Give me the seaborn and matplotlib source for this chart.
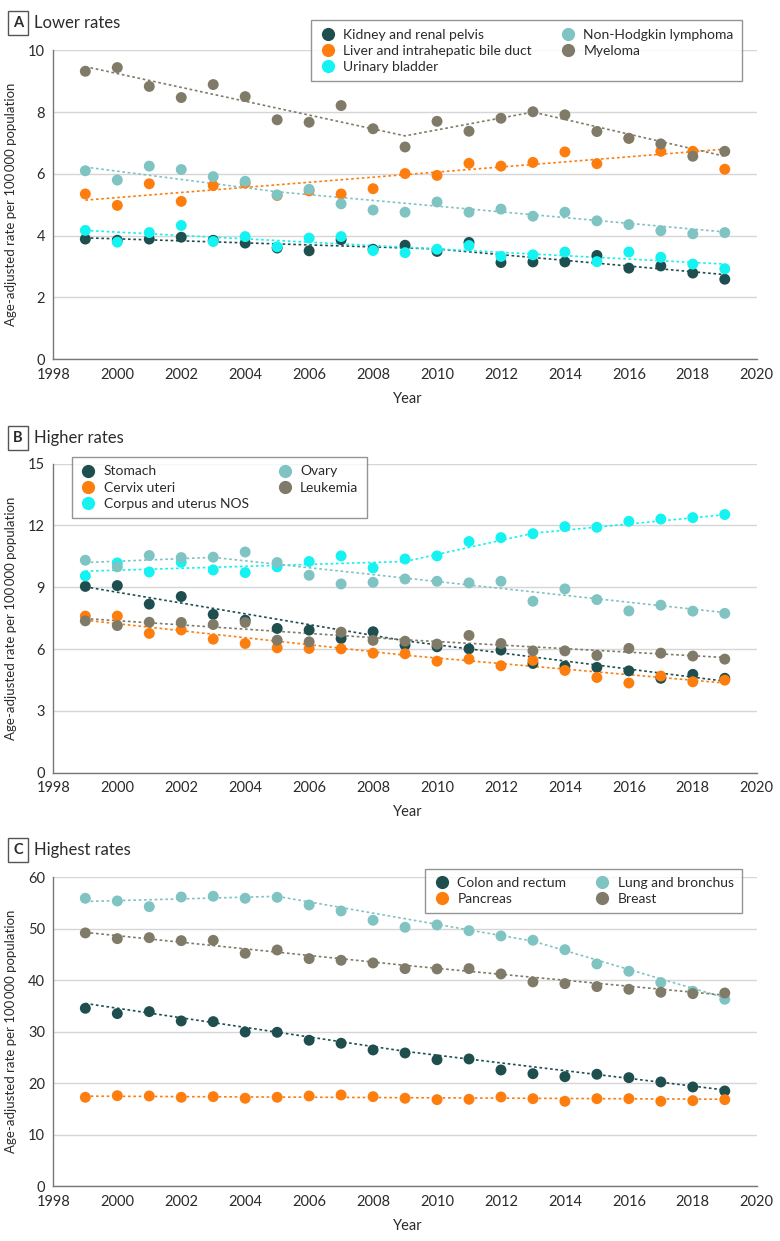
import numpy as np
import pandas as pd
import seaborn as sns
import matplotlib.pyplot as plt
from matplotlib.lines import Line2D

years = list(range(1999, 2020))

# Panel A - lower rates
kidney = [3.89, 3.85, 3.89, 3.95, 3.85, 3.76, 3.60, 3.51, 3.87, 3.56, 3.69,
          3.49, 3.78, 3.13, 3.15, 3.15, 3.36, 2.95, 3.02, 2.79, 2.59]
liver = [5.35, 4.98, 5.68, 5.11, 5.62, 5.70, 5.30, 5.45, 5.35, 5.52, 6.01,
         5.95, 6.34, 6.25, 6.37, 6.71, 6.33, 7.15, 6.73, 6.73, 6.15]
bladder = [4.17, 3.79, 4.10, 4.33, 3.81, 3.97, 3.64, 3.92, 3.97, 3.52, 3.45,
           3.56, 3.68, 3.33, 3.38, 3.47, 3.16, 3.47, 3.30, 3.08, 2.93]
nhl = [6.10, 5.80, 6.25, 6.14, 5.91, 5.76, 5.32, 5.50, 5.03, 4.83, 4.76,
       5.09, 4.76, 4.86, 4.63, 4.76, 4.48, 4.36, 4.16, 4.06, 4.10]
myeloma = [9.32, 9.44, 8.83, 8.47, 8.89, 8.50, 7.75, 7.67, 8.21, 7.46, 6.87,
           7.70, 7.38, 7.80, 8.01, 7.91, 7.37, 7.15, 6.97, 6.57, 6.73]

# Panel B - higher rates
stomach = [9.04, 9.08, 8.18, 8.55, 7.68, 7.40, 7.00, 6.92, 6.51, 6.84, 6.19,
           6.11, 6.01, 5.95, 5.30, 5.17, 5.11, 4.94, 4.58, 4.77, 4.58]
cervix = [7.60, 7.60, 6.76, 6.93, 6.48, 6.27, 6.06, 6.03, 6.01, 5.80, 5.77,
          5.41, 5.51, 5.19, 5.45, 4.96, 4.62, 4.35, 4.69, 4.41, 4.49]
corpus = [9.55, 10.18, 9.74, 10.21, 9.84, 9.71, 9.99, 10.25, 10.52, 9.94, 10.37,
          10.52, 11.22, 11.41, 11.60, 11.94, 11.91, 12.20, 12.31, 12.38, 12.53]
ovary = [10.31, 9.99, 10.54, 10.44, 10.46, 10.71, 10.20, 9.58, 9.16, 9.24, 9.40,
         9.29, 9.21, 9.29, 8.32, 8.92, 8.40, 7.85, 8.13, 7.84, 7.73]
leukemia = [7.37, 7.14, 7.30, 7.29, 7.19, 7.29, 6.43, 6.35, 6.82, 6.42, 6.38,
            6.24, 6.66, 6.27, 5.91, 5.91, 5.69, 6.03, 5.80, 5.66, 5.51]

# Panel C - highest rates
colon = [34.56, 33.53, 33.91, 32.10, 31.97, 29.96, 29.90, 28.35, 27.77, 26.47, 25.88,
         24.58, 24.72, 22.58, 21.86, 21.28, 21.75, 21.09, 20.25, 19.28, 18.50]
pancreas = [17.28, 17.59, 17.53, 17.28, 17.40, 17.09, 17.28, 17.53, 17.73, 17.40, 17.09,
            16.82, 16.89, 17.34, 17.01, 16.50, 17.01, 17.01, 16.50, 16.63, 16.82]
lung = [55.92, 55.40, 54.29, 56.17, 56.31, 55.92, 56.11, 54.62, 53.46, 51.65, 50.29,
        50.74, 49.63, 48.60, 47.77, 45.94, 43.17, 41.75, 39.55, 37.86, 36.31]
breast = [49.19, 48.08, 48.27, 47.69, 47.75, 45.24, 45.88, 44.20, 43.88, 43.36, 42.26,
          42.20, 42.26, 41.23, 39.68, 39.35, 38.77, 38.25, 37.67, 37.40, 37.53]

# joinpoint trend lines: (knot years, fitted values)
trend_kidney = ([1999, 2010, 2019], [3.93, 3.57, 2.74])
trend_liver = ([1999, 2019], [5.15, 6.80])
trend_bladder = ([1999, 2019], [4.17, 3.08])
trend_nhl = ([1999, 2005, 2019], [6.22, 5.42, 4.12])
trend_myeloma = ([1999, 2009, 2013, 2019], [9.47, 7.23, 8.00, 6.57])

trend_stomach = ([1999, 2009, 2019], [9.02, 6.40, 4.44])
trend_cervix = ([1999, 2009, 2019], [7.40, 5.70, 4.35])
trend_corpus = ([1999, 2009, 2013, 2019], [9.78, 10.25, 11.62, 12.52])
trend_ovary = ([1999, 2003, 2019], [10.20, 10.45, 7.77])
trend_leukemia = ([1999, 2009, 2019], [7.48, 6.45, 5.59])

trend_colon = ([1999, 2009, 2019], [35.5, 26.2, 18.7])
trend_pancreas = ([1999, 2019], [17.5, 16.9])
trend_lung = ([1999, 2005, 2013, 2019], [55.3, 56.3, 47.6, 36.6])
trend_breast = ([1999, 2009, 2019], [49.3, 42.9, 37.1])

DARK = "#1f4e4f"
ORANGE = "#fd7e0f"
CYAN = "#14f2f2"
TEAL = "#80c3c3"
OLIVE = "#7f7b68"

panels = [
    dict(letter="A", title="Lower rates", ylim=(0, 10), yticks=np.arange(0, 11, 2),
         series=[("Kidney and renal pelvis", kidney, trend_kidney, DARK),
                 ("Liver and intrahepatic bile duct", liver, trend_liver, ORANGE),
                 ("Urinary bladder", bladder, trend_bladder, CYAN),
                 ("Non-Hodgkin lymphoma", nhl, trend_nhl, TEAL),
                 ("Myeloma", myeloma, trend_myeloma, OLIVE)],
         legend=dict(loc="upper right", bbox_to_anchor=(0.979, 1.097))),
    dict(letter="B", title="Higher rates", ylim=(0, 15), yticks=np.arange(0, 16, 3),
         series=[("Stomach", stomach, trend_stomach, DARK),
                 ("Cervix uteri", cervix, trend_cervix, ORANGE),
                 ("Corpus and uterus NOS", corpus, trend_corpus, CYAN),
                 ("Ovary", ovary, trend_ovary, TEAL),
                 ("Leukemia", leukemia, trend_leukemia, OLIVE)],
         legend=dict(loc="upper left", bbox_to_anchor=(0.026, 1.021))),
    dict(letter="C", title="Highest rates", ylim=(0, 60), yticks=np.arange(0, 61, 10),
         series=[("Colon and rectum", colon, trend_colon, DARK),
                 ("Pancreas", pancreas, trend_pancreas, ORANGE),
                 ("Lung and bronchus", lung, trend_lung, TEAL),
                 ("Breast", breast, trend_breast, OLIVE)],
         legend=dict(loc="upper right", bbox_to_anchor=(0.979, 1.028))),
]

sns.set_theme(style="white")
plt.rcParams["font.family"] = ["Lato", "DejaVu Sans"]
TXT = "#2b2b2b"

fig = plt.figure(figsize=(7.8, 12.41), dpi=100)
axes_pos = [0.7105, 0.3774, 0.0441]
label_y = [0.9815, 0.647, 0.315]

for p, bottom, ly in zip(panels, axes_pos, label_y):
    ax = fig.add_axes([0.0684, bottom, 0.9018, 0.249])
    frames = []
    palette = {}
    for name, vals, trend, color in p["series"]:
        frames.append(pd.DataFrame({"Year": years, "Rate": vals, "Site": name}))
        palette[name] = color
        ax.plot(trend[0], trend[1], color=color, lw=1.2, ls=(0, (1.6, 1.6)), zorder=2)
    df = pd.concat(frames, ignore_index=True)
    sns.scatterplot(data=df, x="Year", y="Rate", hue="Site", palette=palette,
                    s=62, linewidth=0, alpha=1, ax=ax, zorder=3)

    ax.set_xlim(1998, 2020)
    ax.set_ylim(*p["ylim"])
    ax.set_xticks(range(1998, 2021, 2))
    ax.set_yticks(p["yticks"])
    ax.grid(axis="y", color="#d6d6d6", lw=1)
    ax.set_axisbelow(True)
    for s in ["top", "right"]:
        ax.spines[s].set_visible(False)
    for s in ["left", "bottom"]:
        ax.spines[s].set_color("#777777")
        ax.spines[s].set_linewidth(1)
    ax.tick_params(axis="both", direction="out", length=4, width=1, color="#777777",
                   labelsize=10.5, labelcolor=TXT, pad=2)
    ax.set_xlabel("Year", fontsize=10.5, color=TXT, ha="left")
    ax.xaxis.set_label_coords(0.483, -0.105)
    ax.set_ylabel("Age-adjusted rate per 100\u2009000 population", fontsize=9.5, color=TXT)
    ax.yaxis.set_label_coords(-0.052, 0.5)

    handles = [Line2D([], [], marker="o", ls="", ms=9.5, mfc=c, mec="none")
               for _, _, _, c in p["series"]]
    names = [n for n, _, _, _ in p["series"]]
    leg = ax.legend(handles, names, ncol=2, frameon=True, fancybox=False,
                    fontsize=10, handletextpad=0.5, columnspacing=2.0,
                    labelspacing=0.3, borderpad=0.6, handlelength=1.2,
                    borderaxespad=0, **p["legend"])
    leg.get_frame().set_edgecolor("#7a7a7a")
    leg.get_frame().set_linewidth(1)
    for t in leg.get_texts():
        t.set_color(TXT)

    fig.text(0.023, ly, p["letter"], fontsize=10.5, fontweight="bold", color=TXT,
             ha="center", va="center",
             bbox=dict(boxstyle="square,pad=0.35", fc="white", ec="#555555", lw=1))
    fig.text(0.0436, ly, p["title"], fontsize=12, color=TXT, ha="left", va="center")

fig.savefig("out.png", dpi=100)
